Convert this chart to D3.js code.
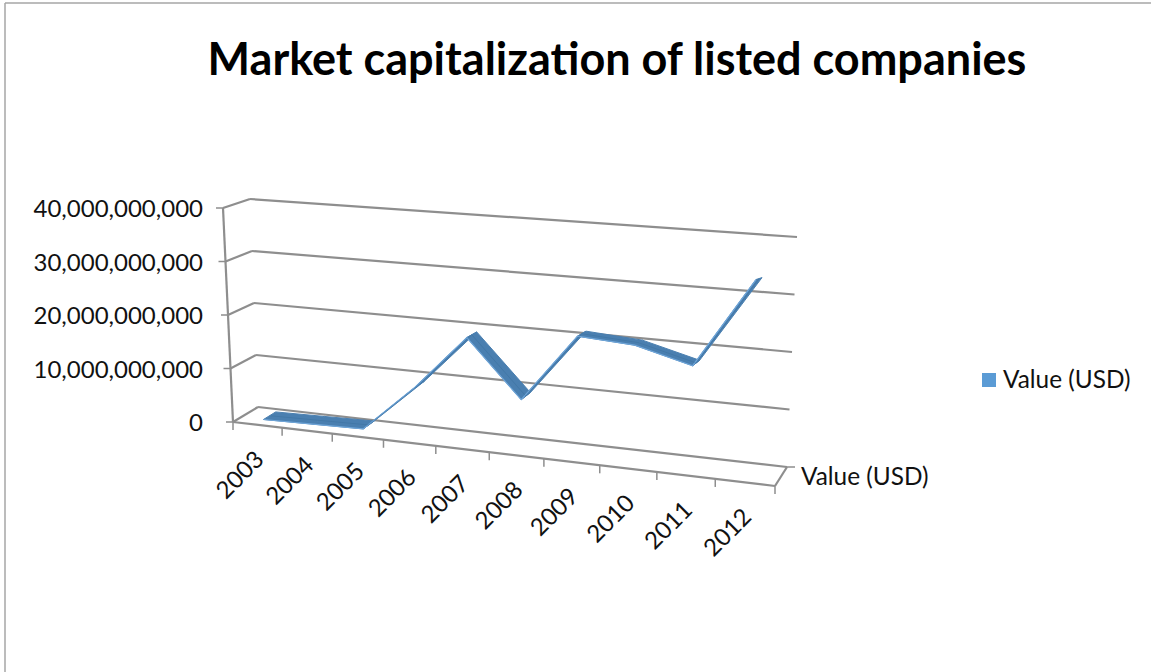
<!DOCTYPE html>
<html><head><meta charset="utf-8">
<script src="https://cdnjs.cloudflare.com/ajax/libs/d3/7.8.5/d3.min.js"></script>
<style>html,body{margin:0;padding:0;background:#fff;overflow:hidden}svg{display:block}text{font-family:Lato,"Open Sans",sans-serif;fill:#111}</style>
</head><body><div id="chart"></div>
<script>
const title = "Market capitalization of listed companies";
const seriesName = "Value (USD)";
const categories = ["2003","2004","2005","2006","2007","2008","2009","2010","2011","2012"];
const values = [0.3e9,0.5e9,0.7e9,9.1e9,19e9,9e9,20.9e9,20.2e9,17.6e9,32.7e9];
const valueTicks = [0,10e9,20e9,30e9,40e9];

const W=1151,H=672;
const svg=d3.select("#chart").append("svg").attr("width",W).attr("height",H);

// 3D frame: four vertical edges, each a scale from value to pixel
const vDom=[0,40e9];
const edge=(x0,x1,y0,y1)=>({x:d3.scaleLinear().domain(vDom).range([x0,x1]),y:d3.scaleLinear().domain(vDom).range([y0,y1])});
const frontLeft=edge(233,223,422,208), backLeft=edge(258,250,407,199),
      frontRight=edge(775,786,486,237), backRight=edge(787,797,467,237);
const persp=0.115;
const catPos=d3.scaleLinear().domain([0,categories.length]).range([0,1]);
const warp=u=>u/(1+persp*(1-u));
function project(c,v,d){ // c category position, v value, d depth 0..1
  const t=warp(catPos(c));
  const mix=(a,b,k)=>a+(b-a)*k;
  const fx=mix(frontLeft.x(v),frontRight.x(v),t), fy=mix(frontLeft.y(v),frontRight.y(v),t);
  const bx=mix(backLeft.x(v),backRight.x(v),t), by=mix(backLeft.y(v),backRight.y(v),t);
  return [mix(fx,bx,d),mix(fy,by,d)];
}
const n=categories.length;
const gridC="#8e8e8e";
const seg=(a,b,w=2.2,c=gridC)=>svg.append("line").attr("x1",a[0]).attr("y1",a[1]).attr("x2",b[0]).attr("y2",b[1]).attr("stroke",c).attr("stroke-width",w);

// page frame
seg([5,3],[W,3],1.5,"#a6a6a6"); seg([5,3],[5,H],1.5,"#a6a6a6");

// gridlines on side and back walls, axis ticks
valueTicks.forEach(v=>{
  seg(project(0,v,1),project(n,v,1));
  seg(project(0,v,0),project(0,v,1));
  const p=project(0,v,0);
  seg([p[0]-7,p[1]],p,1.5);
});
seg(project(0,0,0),project(0,40e9,0));
// floor
seg(project(0,0,0),project(n,0,0));
seg(project(n,0,0),project(n,0,1));
seg(project(n,0,1),[project(n,0,1)[0]+8,project(n,0,1)[1]],1.5);
d3.range(n+1).forEach(i=>{
  const p=project(i,0,0);
  seg(p,[p[0],p[1]+8],1.5);
});

// ribbon
const dF=0.25,dB=0.75;
const line=d3.line();
const pts=values.map((v,i)=>({c:i+0.5,v}));
d3.pairs(pts).forEach(([a,b])=>{
  svg.append("path").attr("d",line([project(a.c,a.v,dF),project(b.c,b.v,dF),project(b.c,b.v,dB),project(a.c,a.v,dB)])+"Z")
    .attr("fill","#4a7fb0").attr("stroke","#4a7fb0").attr("stroke-width",1).attr("stroke-linejoin","round");
});
svg.append("path").attr("d",line(pts.map(p=>project(p.c,p.v,dF)))).attr("fill","none").attr("stroke","#6fa5d8").attr("stroke-width",1.2);
svg.append("path").attr("d",line(pts.map(p=>project(p.c,p.v,(dF+dB)/2)))).attr("fill","none").attr("stroke","#2f6390").attr("stroke-width",0.7).attr("stroke-opacity",0.4);

// value labels
const fmt=d3.format(",");
valueTicks.forEach(v=>{
  svg.append("text").attr("x",203).attr("y",project(0,v,0)[1]+9).attr("text-anchor","end").attr("font-size",24).text(fmt(v));
});
// category labels
categories.forEach((c,i)=>{
  const p=project(i+0.5,0,0);
  svg.append("text").attr("text-anchor","end").attr("font-size",24)
    .attr("transform",`translate(${p[0]+8},${p[1]+36}) rotate(-45)`).text(c);
});
// depth axis label
svg.append("text").attr("x",801).attr("y",485).attr("font-size",24.4).text(seriesName);
// title
svg.append("text").attr("x",617).attr("y",75).attr("text-anchor","middle").attr("font-size",45).attr("font-weight",700).style("fill","#000").text(title);
// legend
svg.append("rect").attr("x",982).attr("y",373).attr("width",14).attr("height",14).attr("fill","#5b9bd5");
svg.append("text").attr("x",1003).attr("y",388).attr("font-size",24.4).text(seriesName);
</script></body></html>
